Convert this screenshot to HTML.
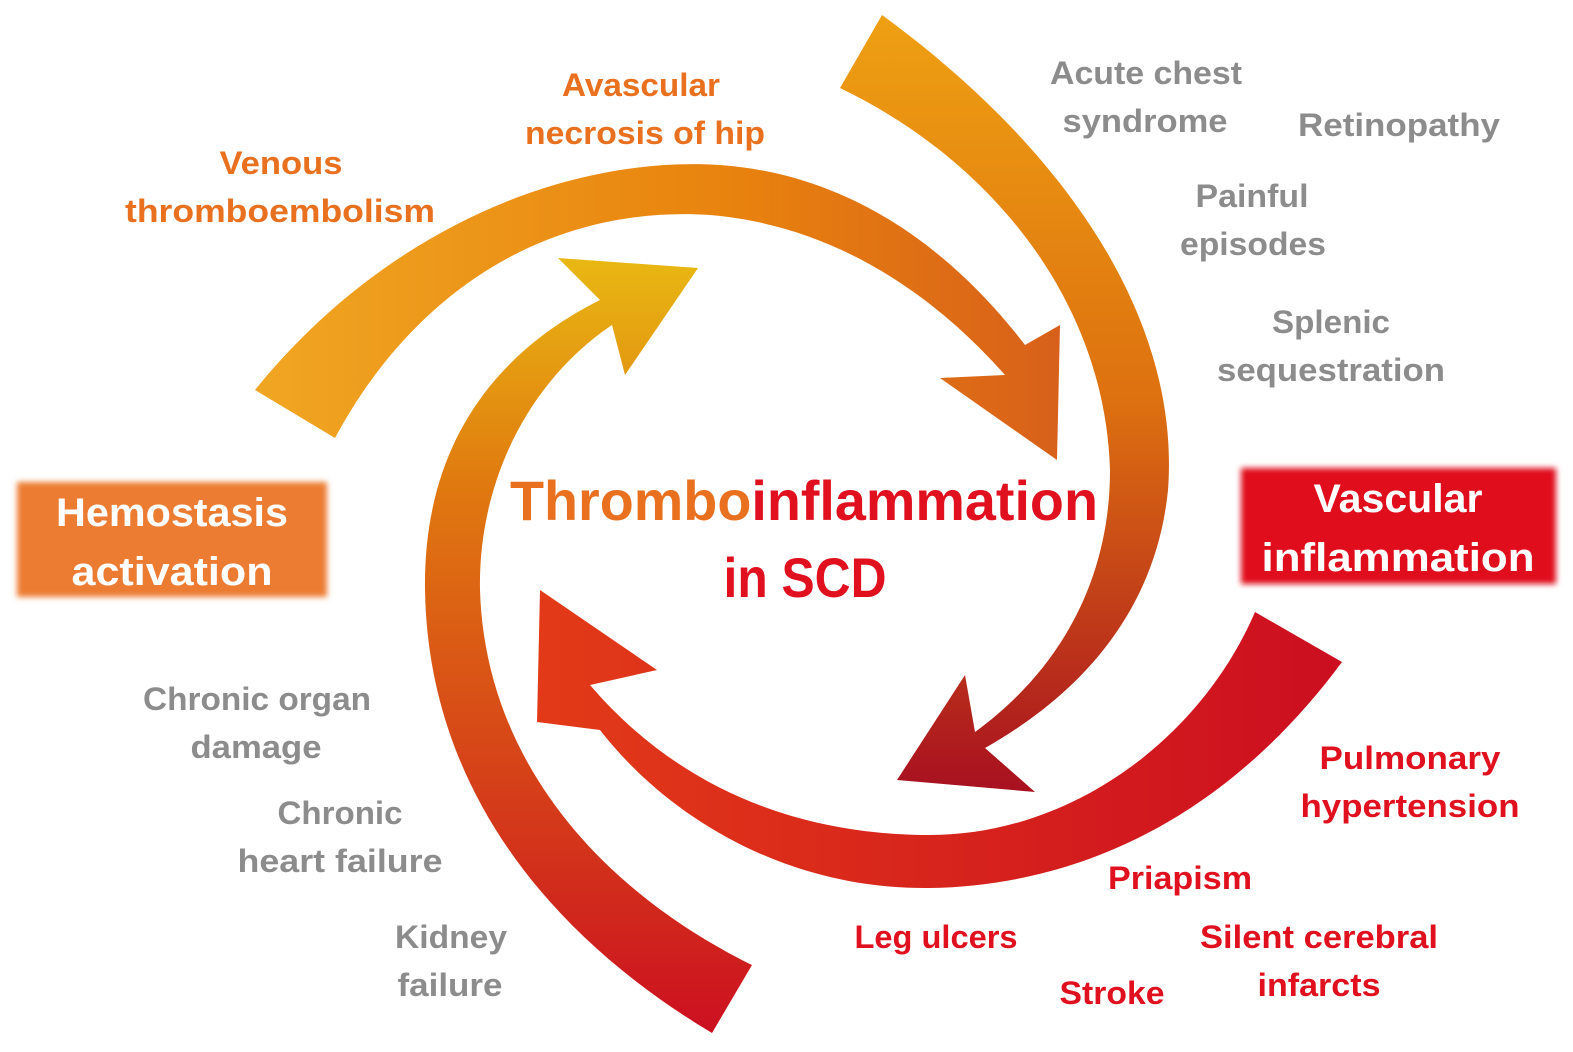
<!DOCTYPE html>
<html><head><meta charset="utf-8"><style>
html,body{margin:0;padding:0;background:#fff}
svg{display:block}
text{font-family:"Liberation Sans",sans-serif;font-weight:bold;text-anchor:middle}
.g{fill:#8c8c8c;font-size:32px}
.o{fill:#e8701e;font-size:32px}
.r{fill:#e0101e;font-size:32px}
.w{fill:#fff;font-size:40px}
</style></head><body>
<svg width="1573" height="1052" viewBox="0 0 1573 1052" xmlns="http://www.w3.org/2000/svg">
<defs>
<linearGradient id="g1" x1="0" y1="0" x2="1" y2="0"><stop offset="0" stop-color="#f0a622"/><stop offset="0.6" stop-color="#e8820e"/><stop offset="1" stop-color="#d8601a"/></linearGradient>
<linearGradient id="g2" x1="0" y1="0" x2="0" y2="1"><stop offset="0" stop-color="#eea012"/><stop offset="0.5" stop-color="#dd7010"/><stop offset="1" stop-color="#a81020"/></linearGradient>
<linearGradient id="g3" x1="0" y1="0" x2="1" y2="0"><stop offset="0" stop-color="#e23a18"/><stop offset="1" stop-color="#cc0e20"/></linearGradient>
<linearGradient id="g4" x1="0" y1="0" x2="0" y2="1"><stop offset="0" stop-color="#e8b812"/><stop offset="0.3" stop-color="#e07810"/><stop offset="1" stop-color="#cc1020"/></linearGradient>
<filter id="bl"><feGaussianBlur stdDeviation="3"/></filter>
</defs>
<path fill="url(#g1)" d="M255,390 C380,235 560,155 720,165 C860,175 960,260 1025,345 L1060,325 L1057,460 L940,378 L1005,375 C930,290 830,225 710,215 C560,205 420,280 335,438 Z"/>
<path fill="url(#g2)" d="M882,15 C1080,160 1180,330 1168,490 C1155,620 1070,700 985,748 L1035,792 L897,780 L965,675 L975,732 C1060,670 1110,580 1110,470 C1105,300 990,160 840,88 Z"/>
<path fill="url(#g3)" d="M1342,662 C1240,800 1100,885 930,888 C790,890 670,820 600,730 L537,722 L540,590 L657,670 L590,685 C680,790 800,835 930,835 C1070,835 1200,740 1255,612 Z"/>
<path fill="url(#g4)" d="M712,1033 C540,930 428,780 425,590 C423,440 500,350 600,300 L558,258 L698,268 L625,375 L612,325 C530,380 478,480 480,590 C485,760 600,890 752,965 Z"/>
<rect x="17" y="482" width="310" height="115" fill="#ec7c30" filter="url(#bl)"/>
<rect x="1241" y="468" width="315" height="116" fill="#e0101e" filter="url(#bl)"/>
<text class="w" x="172" y="526" textLength="232" lengthAdjust="spacingAndGlyphs">Hemostasis</text>
<text class="w" x="172" y="585" textLength="201" lengthAdjust="spacingAndGlyphs">activation</text>
<text class="w" x="1398" y="512" textLength="169" lengthAdjust="spacingAndGlyphs">Vascular</text>
<text class="w" x="1398" y="571" textLength="273" lengthAdjust="spacingAndGlyphs">inflammation</text>
<text x="804" y="520" style="font-size:56px" textLength="588" lengthAdjust="spacingAndGlyphs"><tspan fill="#e8701e">Thrombo</tspan><tspan fill="#e0101e">inflammation</tspan></text>
<text x="805" y="597" style="font-size:56px;fill:#e0101e" textLength="163" lengthAdjust="spacingAndGlyphs">in SCD</text>
<g lengthAdjust="spacingAndGlyphs">
<text class="o" x="641" y="96" textLength="158" lengthAdjust="spacingAndGlyphs">Avascular</text>
<text class="o" x="645" y="144" textLength="240" lengthAdjust="spacingAndGlyphs">necrosis of hip</text>
<text class="o" x="281" y="174" textLength="123" lengthAdjust="spacingAndGlyphs">Venous</text>
<text class="o" x="280" y="222" textLength="310" lengthAdjust="spacingAndGlyphs">thromboembolism</text>
<text class="g" x="1146" y="84" textLength="192" lengthAdjust="spacingAndGlyphs">Acute chest</text>
<text class="g" x="1145" y="132" textLength="165" lengthAdjust="spacingAndGlyphs">syndrome</text>
<text class="g" x="1399" y="136" textLength="202" lengthAdjust="spacingAndGlyphs">Retinopathy</text>
<text class="g" x="1252" y="207" textLength="113" lengthAdjust="spacingAndGlyphs">Painful</text>
<text class="g" x="1253" y="255" textLength="146" lengthAdjust="spacingAndGlyphs">episodes</text>
<text class="g" x="1331" y="333" textLength="118" lengthAdjust="spacingAndGlyphs">Splenic</text>
<text class="g" x="1331" y="381" textLength="228" lengthAdjust="spacingAndGlyphs">sequestration</text>
<text class="g" x="257" y="710" textLength="228" lengthAdjust="spacingAndGlyphs">Chronic organ</text>
<text class="g" x="256" y="758" textLength="131" lengthAdjust="spacingAndGlyphs">damage</text>
<text class="g" x="340" y="824" textLength="125" lengthAdjust="spacingAndGlyphs">Chronic</text>
<text class="g" x="340" y="872" textLength="205" lengthAdjust="spacingAndGlyphs">heart failure</text>
<text class="g" x="451" y="948" textLength="112" lengthAdjust="spacingAndGlyphs">Kidney</text>
<text class="g" x="450" y="996" textLength="105" lengthAdjust="spacingAndGlyphs">failure</text>
<text class="r" x="1410" y="769" textLength="181" lengthAdjust="spacingAndGlyphs">Pulmonary</text>
<text class="r" x="1410" y="817" textLength="219" lengthAdjust="spacingAndGlyphs">hypertension</text>
<text class="r" x="1180" y="889" textLength="144" lengthAdjust="spacingAndGlyphs">Priapism</text>
<text class="r" x="936" y="948" textLength="163" lengthAdjust="spacingAndGlyphs">Leg ulcers</text>
<text class="r" x="1319" y="948" textLength="238" lengthAdjust="spacingAndGlyphs">Silent cerebral</text>
<text class="r" x="1319" y="996" textLength="123" lengthAdjust="spacingAndGlyphs">infarcts</text>
<text class="r" x="1112" y="1004" textLength="105" lengthAdjust="spacingAndGlyphs">Stroke</text>
</g>
</svg>
</body></html>
